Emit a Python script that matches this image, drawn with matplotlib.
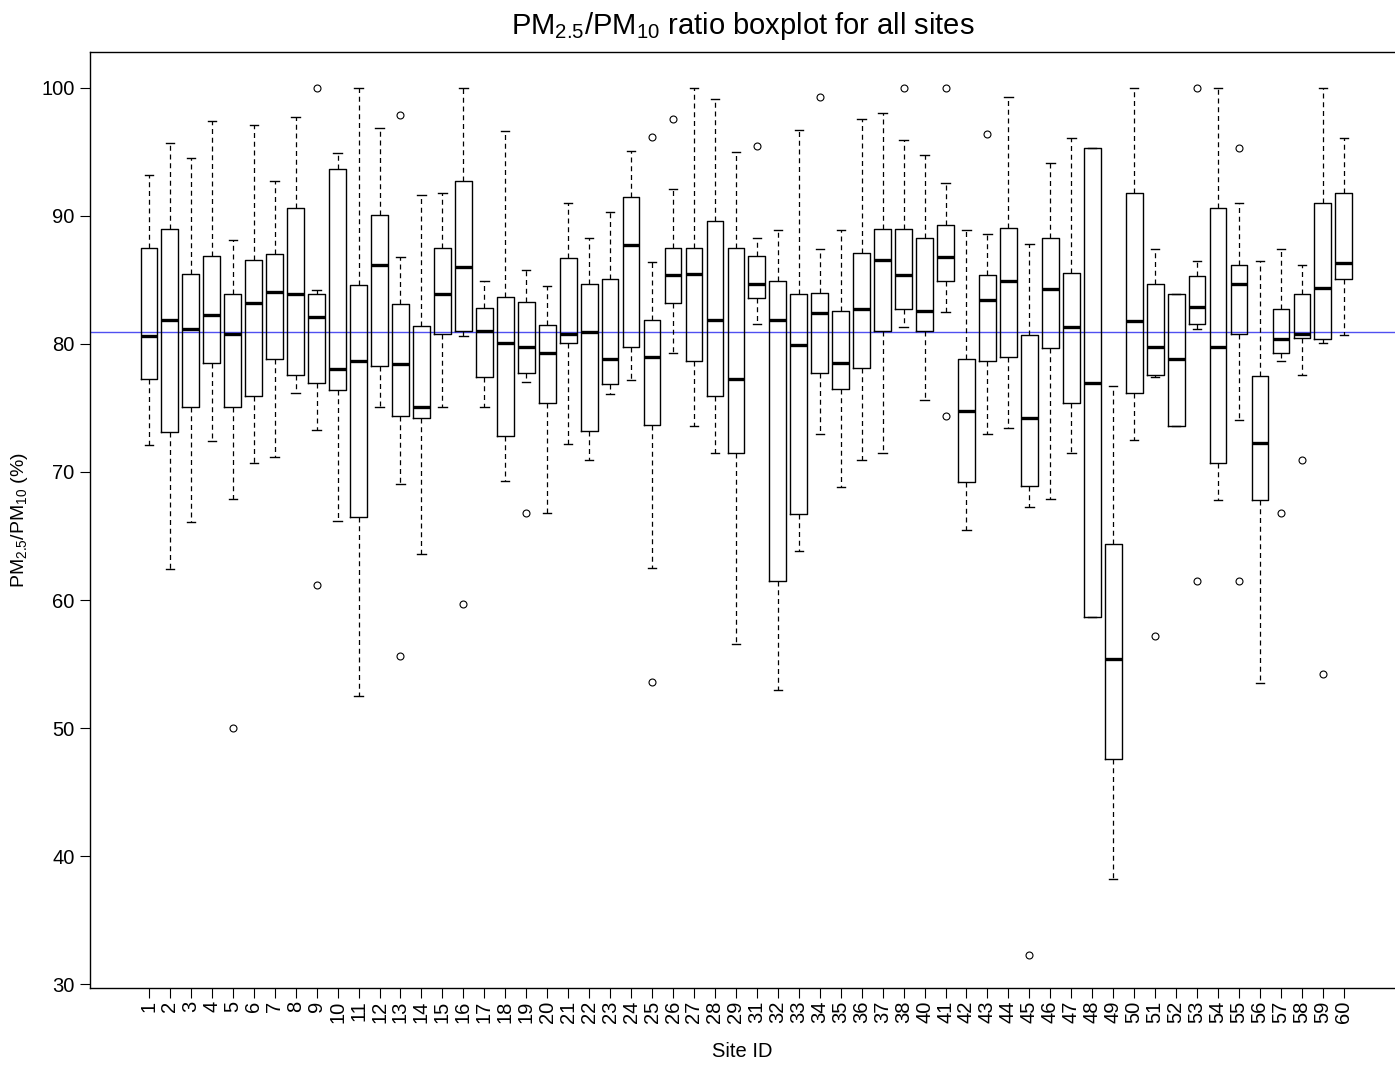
import matplotlib
matplotlib.use('Agg')
import matplotlib.pyplot as plt

plt.rcParams['font.family'] = ['Liberation Sans', 'DejaVu Sans']
plt.rcParams['mathtext.fontset'] = 'custom'
plt.rcParams['mathtext.rm'] = 'Liberation Sans'
plt.rcParams['mathtext.it'] = 'Liberation Sans'

# Box statistics (PM2.5/PM10 ratio, %)
site_ids = [1, 2, 3, 4, 5, 6, 7, 8, 9, 10, 11, 12, 13, 14, 15, 16, 17, 18, 19, 20,
            21, 22, 23, 24, 25, 26, 27, 28, 29, 31, 32, 33, 34, 35, 36, 37, 38, 40,
            41, 42, 43, 44, 45, 46, 47, 48, 49, 50, 51, 52, 53, 54, 55, 56, 57, 58,
            59, 60]
whis_hi = [93.2, 95.7, 94.5, 97.4, 88.1, 97.1, 92.7, 97.7, 84.2, 94.9, 100.0, 96.9,
           86.8, 91.6, 91.8, 100.0, 84.95, 96.6, 85.8, 84.5, 91.0, 88.3, 90.3, 95.1,
           86.4, 92.1, 100.0, 99.1, 95.0, 88.3, 88.9, 96.7, 87.4, 88.9, 97.6, 98.05,
           95.9, 94.8, 92.6, 88.9, 88.6, 99.3, 87.8, 94.1, 96.1, 95.3, 76.7, 100.0,
           87.4, 83.9, 86.5, 100.0, 91.0, 86.5, 87.4, 86.2, 100.0, 96.1]
q3 = [87.5, 89.0, 85.5, 86.9, 83.9, 86.6, 87.0, 90.6, 83.9, 93.7, 84.6, 90.05,
      83.1, 81.4, 87.5, 92.7, 82.8, 83.7, 83.3, 81.5, 86.7, 84.7, 85.1, 91.5,
      81.9, 87.5, 87.5, 89.6, 87.5, 86.9, 84.95, 83.9, 84.0, 82.6, 87.1, 89.0,
      89.0, 88.3, 89.3, 78.8, 85.4, 89.1, 80.7, 88.3, 85.55, 95.3, 64.4, 91.8,
      84.7, 83.9, 85.3, 90.6, 86.2, 77.5, 82.7, 83.9, 91.0, 91.8]
medians = [80.6, 81.9, 81.2, 82.3, 80.8, 83.2, 84.1, 83.9, 82.1, 78.05, 78.7, 86.2,
           78.4, 75.05, 83.9, 86.0, 81.0, 80.1, 79.8, 79.3, 80.8, 80.9, 78.8, 87.7,
           79.0, 85.4, 85.5, 81.9, 77.3, 84.7, 81.9, 79.9, 82.4, 78.5, 82.7, 86.6,
           85.4, 82.6, 86.8, 74.8, 83.4, 84.95, 74.2, 84.3, 81.3, 76.95, 55.4, 81.8,
           79.8, 78.8, 82.9, 79.8, 84.7, 72.3, 80.4, 80.8, 84.4, 86.3]
q1 = [77.3, 73.1, 75.05, 78.5, 75.05, 75.9, 78.8, 77.55, 76.95, 76.4, 66.5, 78.3,
      74.4, 74.2, 80.8, 81.0, 77.4, 72.8, 77.7, 75.4, 80.1, 73.2, 76.9, 79.8,
      73.7, 83.2, 78.7, 75.9, 71.5, 83.6, 61.5, 66.7, 77.7, 76.5, 78.1, 81.0,
      82.7, 81.0, 84.95, 69.2, 78.7, 79.0, 68.9, 79.7, 75.4, 58.7, 47.6, 76.2,
      77.55, 73.6, 81.6, 70.7, 80.8, 67.8, 79.3, 80.5, 80.4, 85.1]
whis_lo = [72.1, 62.4, 66.1, 72.4, 67.9, 70.7, 71.2, 76.2, 73.3, 66.2, 52.5, 75.05,
           69.1, 63.6, 75.05, 80.6, 75.05, 69.3, 77.0, 66.8, 72.2, 70.9, 76.1, 77.2,
           62.5, 79.3, 73.6, 71.5, 56.6, 81.6, 53.0, 63.8, 73.0, 68.8, 70.9, 71.5,
           81.3, 75.6, 82.5, 65.5, 72.95, 73.4, 67.3, 67.9, 71.5, 58.7, 38.2, 72.5,
           77.4, 73.6, 81.2, 67.8, 74.1, 53.5, 78.7, 77.55, 80.1, 80.7]
outliers = {5: [50.0], 9: [100.0, 61.2], 13: [97.9, 55.6], 16: [59.7], 19: [66.8],
            25: [96.2, 53.6], 26: [97.6], 31: [95.5], 34: [99.3], 38: [100.0],
            41: [100.0, 74.4], 43: [96.4], 45: [32.3], 51: [57.2], 53: [100.0, 61.5],
            55: [95.3, 61.5], 57: [66.8], 58: [70.9], 59: [54.2]}
overall_median = 80.95

stats = []
for i, sid in enumerate(site_ids):
    stats.append({'label': str(sid), 'whislo': whis_lo[i], 'q1': q1[i], 'med': medians[i],
                  'q3': q3[i], 'whishi': whis_hi[i], 'fliers': outliers.get(sid, [])})

fig = plt.figure(figsize=(13.95, 10.65), dpi=100)
ax = fig.add_axes([90 / 1395, 1 - 988 / 1065, 1 - 90 / 1395, (988 - 52) / 1065])

ax.bxp(stats, positions=range(1, len(stats) + 1), widths=0.8, capwidths=0.4,
       boxprops=dict(color='black', linewidth=1.0),
       whiskerprops=dict(color='black', linewidth=0.9, linestyle=(0, (4, 3))),
       capprops=dict(color='black', linewidth=1.0),
       medianprops=dict(color='black', linewidth=2.4),
       flierprops=dict(marker='o', markerfacecolor='none', markeredgecolor='black',
                       markersize=5, markeredgewidth=0.8))

ax.axhline(overall_median, color='#5050f0', linewidth=1.0, zorder=0)

ax.set_xlim(-1.81, 60.44)
ax.set_ylim(29.69, 102.81)
ax.set_yticks(range(30, 101, 10))
ax.tick_params(axis='y', labelsize=14.5, length=7, width=0.8, direction='out', pad=4)
ax.tick_params(axis='x', labelsize=14.5, length=7, width=0.8, direction='out',
               labelrotation=90, pad=2)
ax.spines['right'].set_visible(False)
for s in ['left', 'top', 'bottom']:
    ax.spines[s].set_linewidth(1.0)

ax.set_title(r'$\mathregular{PM_{2.5}/PM_{10}}$ ratio boxplot for all sites',
             fontsize=21, pad=13)
ax.set_xlabel('Site ID', fontsize=14.5, labelpad=14)
ax.set_ylabel(r'$\mathregular{PM_{2.5}/PM_{10}}$ (%)', fontsize=14, labelpad=8)

fig.savefig('out.png', dpi=100)
